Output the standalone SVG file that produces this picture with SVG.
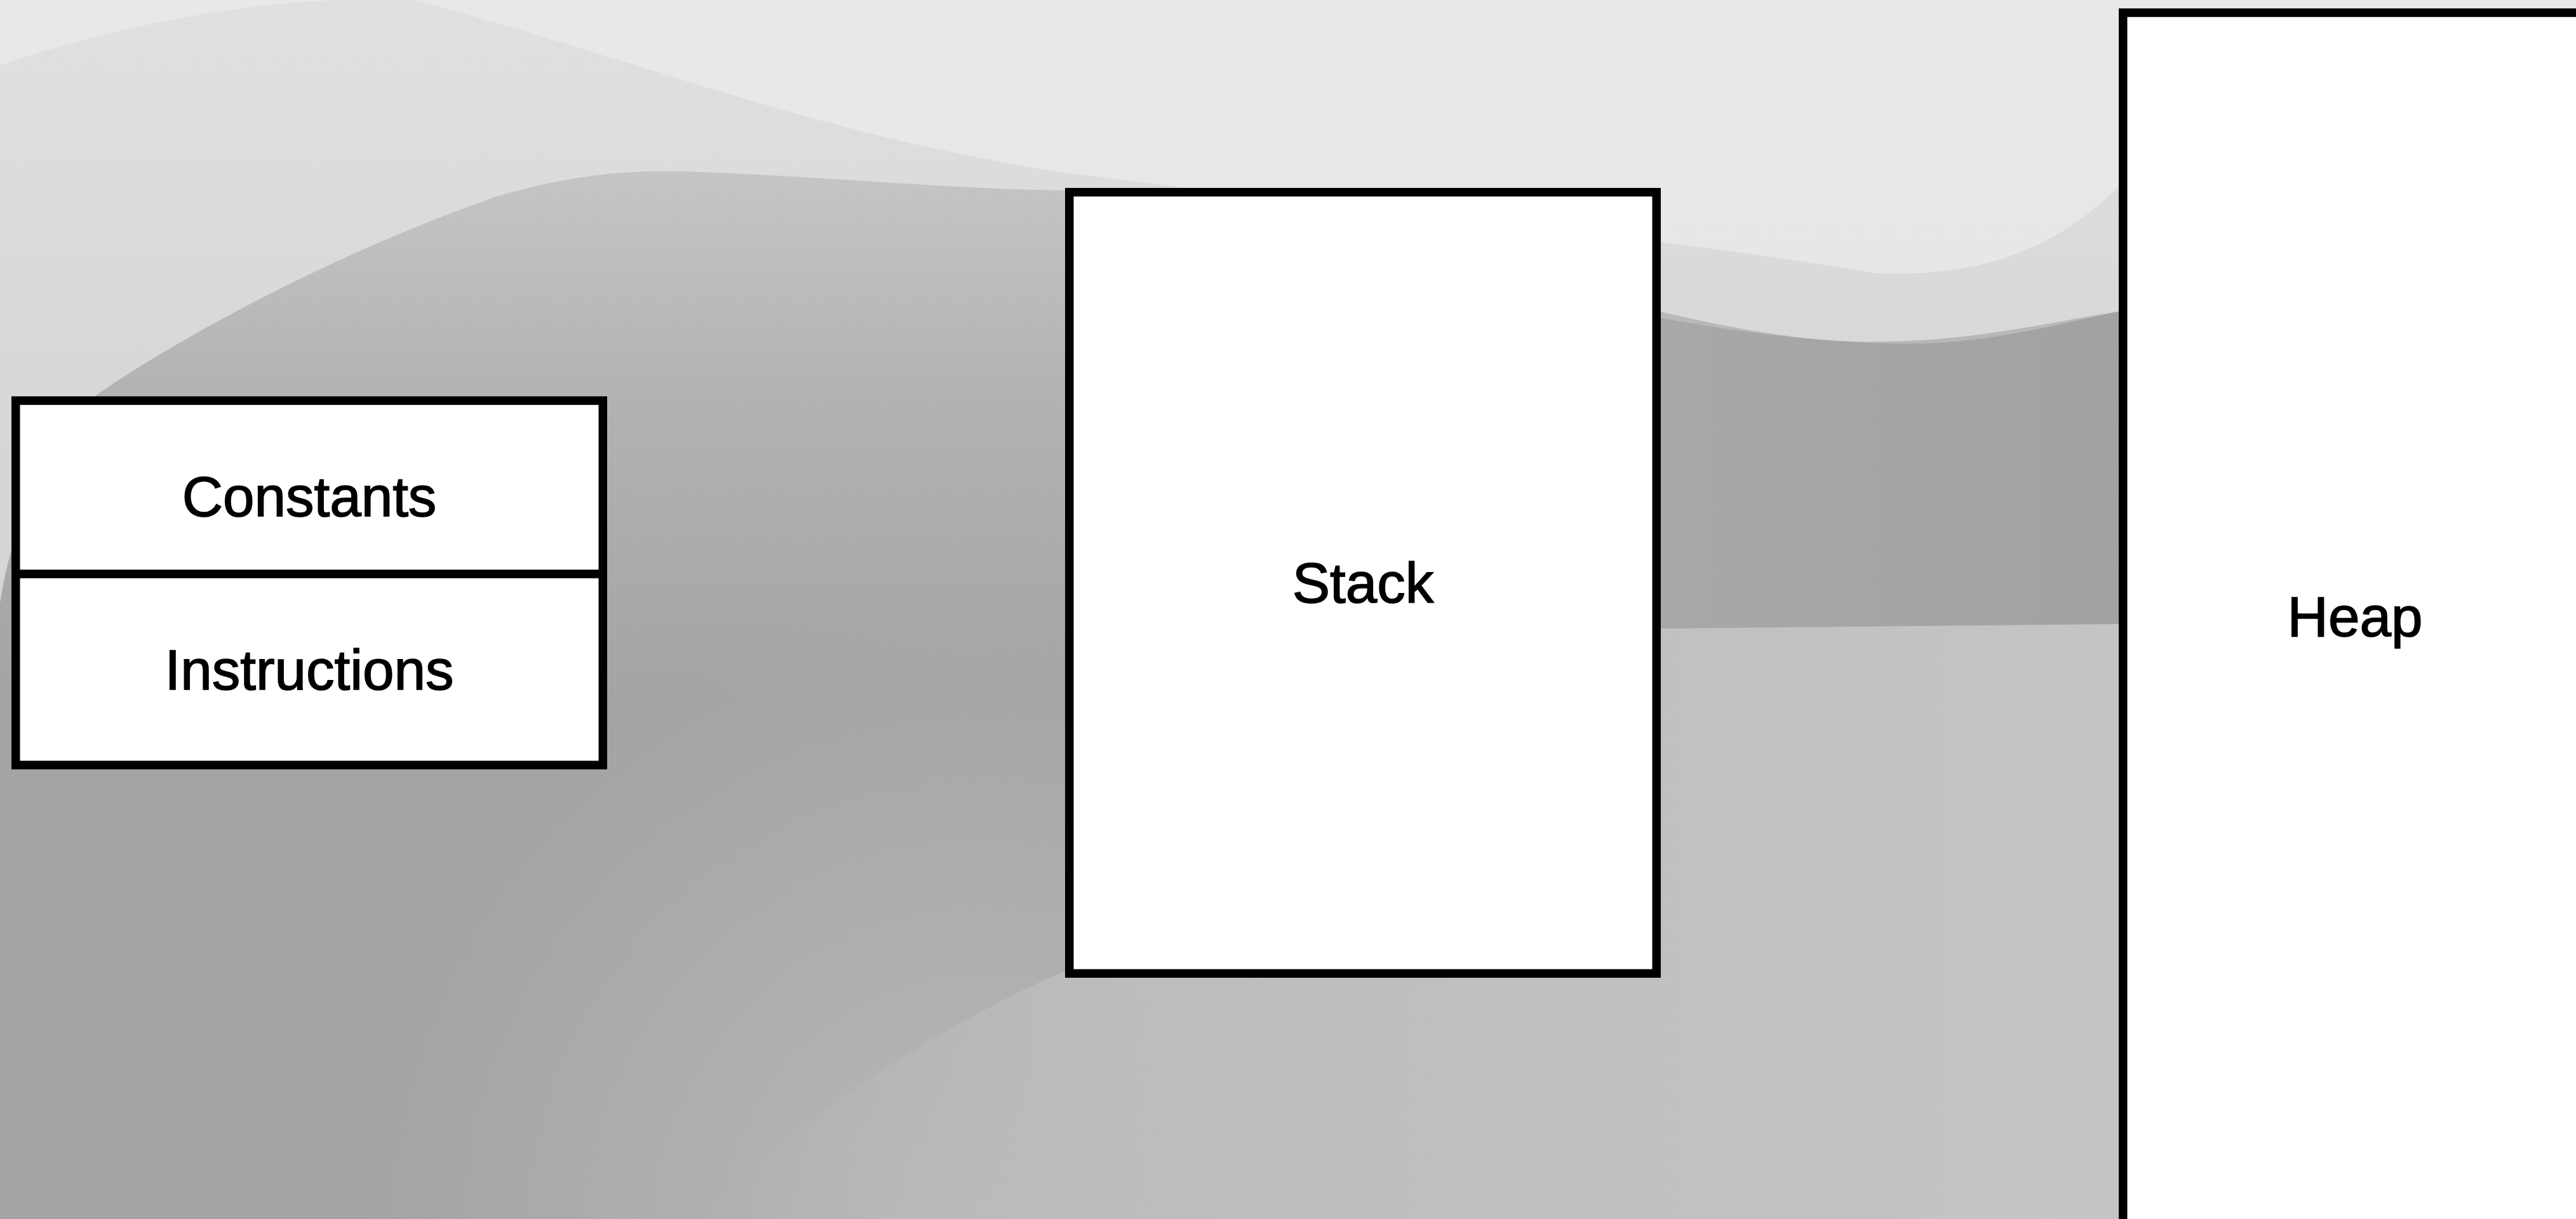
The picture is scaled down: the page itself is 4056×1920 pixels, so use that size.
<svg xmlns="http://www.w3.org/2000/svg" width="4056" height="1920" viewBox="0 0 4056 1920">
  <style>
    .box { fill: #ffffff; stroke: #000000; stroke-width: 13.5; }
    .div { stroke: #000000; stroke-width: 13.5; }
    .lbl { font-family: "Liberation Sans", Arial, Helvetica, sans-serif; font-size: 89px; fill: #000000; stroke: #000000; stroke-width: 1.6; text-anchor: middle; }
  </style>
  <defs>
    <linearGradient id="sky" x1="0" y1="0" x2="0" y2="1">
      <stop offset="0" stop-color="#e8e8e8"/>
      <stop offset="1" stop-color="#e3e3e3"/>
    </linearGradient>
    <linearGradient id="band" x1="0" y1="0" x2="0" y2="700" gradientUnits="userSpaceOnUse">
      <stop offset="0" stop-color="#e0e0e0"/>
      <stop offset="1" stop-color="#d6d6d6"/>
    </linearGradient>
    <linearGradient id="hill" x1="0" y1="250" x2="0" y2="1100" gradientUnits="userSpaceOnUse">
      <stop offset="0" stop-color="#c6c6c6"/>
      <stop offset="0.45" stop-color="#b2b2b2"/>
      <stop offset="1" stop-color="#a4a4a4"/>
    </linearGradient>
    <linearGradient id="plain" x1="1100" y1="0" x2="4056" y2="0" gradientUnits="userSpaceOnUse">
      <stop offset="0" stop-color="#b8b8b8" stop-opacity="0"/>
      <stop offset="0.2" stop-color="#bcbcbc" stop-opacity="1"/>
      <stop offset="1" stop-color="#c8c8c8" stop-opacity="1"/>
    </linearGradient>
    <radialGradient id="glow" cx="1550" cy="1950" r="1000" gradientUnits="userSpaceOnUse">
      <stop offset="0" stop-color="#bababa" stop-opacity="1"/>
      <stop offset="0.6" stop-color="#b3b3b3" stop-opacity="0.55"/>
      <stop offset="1" stop-color="#b0b0b0" stop-opacity="0"/>
    </radialGradient>
    <linearGradient id="rightDark" x1="2610" y1="0" x2="3340" y2="0" gradientUnits="userSpaceOnUse">
      <stop offset="0" stop-color="#a8a8a8"/>
      <stop offset="1" stop-color="#a2a2a2"/>
    </linearGradient>
  </defs>

  <g id="background">
    <rect x="0" y="0" width="4056" height="1920" fill="url(#sky)"/>
    <path d="M0,103 C180,40 400,0 560,0 L650,0 C1000,90 1300,220 1700,275 C2200,340 2600,370 2950,430 C3150,440 3260,370 3340,290 L3340,1920 L0,1920 Z" fill="url(#band)"/>
    <path d="M0,950 C20,820 80,680 155,620 C300,520 550,390 780,310 C900,275 980,268 1080,270 C1300,278 1500,298 1680,300 C2000,320 2350,420 2610,490 C2780,530 2880,540 2975,538 C3120,535 3240,505 3340,490 L4056,490 L4056,1920 L0,1920 Z" fill="url(#hill)"/>
    <path d="M2610,500 C2800,535 2950,545 3050,540 C3180,532 3280,500 3340,490 L3340,983 L2610,990 Z" fill="url(#rightDark)"/>
    <rect x="0" y="0" width="4056" height="1920" fill="url(#glow)"/>
    <path d="M1100,1920 C1300,1720 1550,1580 1700,1520 L1700,995 L2610,990 L3340,983 L4056,983 L4056,1920 Z" fill="url(#plain)"/>
  </g>

  <g id="connectors"></g>

  <g id="program">
    <rect class="box" x="24.75" y="631" width="924.5" height="574"/>
    <line class="div" x1="18" y1="904" x2="956" y2="904"/>
  </g>
  <g id="constants">
    <text class="lbl" x="487" y="813">Constants</text>
  </g>
  <g id="instructions">
    <text class="lbl" x="487" y="1086">Instructions</text>
  </g>
  <g id="stack">
    <rect class="box" x="1683.75" y="302.75" width="924.5" height="1230.5"/>
    <text class="lbl" x="2146" y="949">Stack</text>
  </g>
  <g id="heap">
    <rect class="box" x="3342.75" y="20" width="800" height="1960"/>
    <text class="lbl" x="3708" y="1002">Heap</text>
  </g>
</svg>
